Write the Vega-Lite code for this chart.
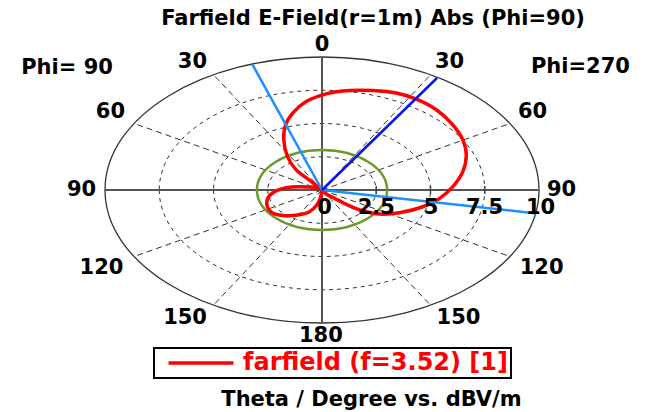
{
  "$schema": "https://vega.github.io/schema/vega-lite/v6.json",
  "width": 434,
  "height": 266,
  "autosize": {"type": "none"},
  "padding": {"left": 105, "top": 57, "right": 112, "bottom": 89},
  "background": "white",
  "config": {"view": {"stroke": null}, "font": "DejaVu Sans"},
  "datasets": {
    "rings": [{"x": 0, "y": 0, "r": 2.5}, {"x": 0, "y": 0, "r": 5}, {"x": 0, "y": 0, "r": 7.5}],
    "outer": [{"x": 0, "y": 0, "r": 10}],
    "green": [{"x": 0, "y": 0, "r": 3}],
    "spokes": [
      {"x": 0, "y": 0, "x2": 5, "y2": 8.66},
      {"x": 0, "y": 0, "x2": 8.66, "y2": 5},
      {"x": 0, "y": 0, "x2": 8.66, "y2": -5},
      {"x": 0, "y": 0, "x2": 5, "y2": -8.66},
      {"x": 0, "y": 0, "x2": -5, "y2": 8.66},
      {"x": 0, "y": 0, "x2": -8.66, "y2": 5},
      {"x": 0, "y": 0, "x2": -8.66, "y2": -5},
      {"x": 0, "y": 0, "x2": -5, "y2": -8.66}
    ],
    "axes": [{"x": -10, "y": 0, "x2": 10, "y2": 0}, {"x": 0, "y": -10, "x2": 0, "y2": 10}],
    "ticks": [{"x": 2.5, "y": 0}, {"x": 5, "y": 0}, {"x": 7.5, "y": 0}],
    "pattern": [
      {"s": "farfield (f=3.52) [1]", "i": 1, "x": 0, "y": 0}, {"s": "farfield (f=3.52) [1]", "i": 2, "x": -0.58, "y": 0.75}, {"s": "farfield (f=3.52) [1]", "i": 3, "x": -1.19, "y": 1.51},
      {"s": "farfield (f=3.52) [1]", "i": 4, "x": -1.59, "y": 2.51}, {"s": "farfield (f=3.52) [1]", "i": 5, "x": -1.76, "y": 3.77}, {"s": "farfield (f=3.52) [1]", "i": 6, "x": -1.68, "y": 4.9},
      {"s": "farfield (f=3.52) [1]", "i": 7, "x": -1.35, "y": 5.78}, {"s": "farfield (f=3.52) [1]", "i": 8, "x": -0.73, "y": 6.65}, {"s": "farfield (f=3.52) [1]", "i": 9, "x": 0.19, "y": 7.23},
      {"s": "farfield (f=3.52) [1]", "i": 10, "x": 1.27, "y": 7.48}, {"s": "farfield (f=3.52) [1]", "i": 11, "x": 2.34, "y": 7.48}, {"s": "farfield (f=3.52) [1]", "i": 12, "x": 3.42, "y": 7.29},
      {"s": "farfield (f=3.52) [1]", "i": 13, "x": 4.35, "y": 6.83}, {"s": "farfield (f=3.52) [1]", "i": 14, "x": 5.27, "y": 6.03}, {"s": "farfield (f=3.52) [1]", "i": 15, "x": 6.03, "y": 4.9},
      {"s": "farfield (f=3.52) [1]", "i": 16, "x": 6.49, "y": 3.77}, {"s": "farfield (f=3.52) [1]", "i": 17, "x": 6.65, "y": 2.64}, {"s": "farfield (f=3.52) [1]", "i": 18, "x": 6.49, "y": 1.38},
      {"s": "farfield (f=3.52) [1]", "i": 19, "x": 6.03, "y": 0.25}, {"s": "farfield (f=3.52) [1]", "i": 20, "x": 5.42, "y": -0.63}, {"s": "farfield (f=3.52) [1]", "i": 21, "x": 4.65, "y": -1.26},
      {"s": "farfield (f=3.52) [1]", "i": 22, "x": 3.57, "y": -1.71}, {"s": "farfield (f=3.52) [1]", "i": 23, "x": 2.65, "y": -1.81}, {"s": "farfield (f=3.52) [1]", "i": 24, "x": 1.88, "y": -1.56},
      {"s": "farfield (f=3.52) [1]", "i": 25, "x": 1.19, "y": -1.13}, {"s": "farfield (f=3.52) [1]", "i": 26, "x": 0.58, "y": -0.63}, {"s": "farfield (f=3.52) [1]", "i": 27, "x": 0.19, "y": -0.3},
      {"s": "farfield (f=3.52) [1]", "i": 28, "x": 0, "y": 0}, {"s": "farfield (f=3.52) [1]", "i": 29, "x": -0.42, "y": 0.2}, {"s": "farfield (f=3.52) [1]", "i": 30, "x": -1.04, "y": 0.25},
      {"s": "farfield (f=3.52) [1]", "i": 31, "x": -1.65, "y": 0.17}, {"s": "farfield (f=3.52) [1]", "i": 32, "x": -2.19, "y": -0.13}, {"s": "farfield (f=3.52) [1]", "i": 33, "x": -2.5, "y": -0.63},
      {"s": "farfield (f=3.52) [1]", "i": 34, "x": -2.52, "y": -1.26}, {"s": "farfield (f=3.52) [1]", "i": 35, "x": -2.3, "y": -1.71}, {"s": "farfield (f=3.52) [1]", "i": 36, "x": -1.81, "y": -1.91},
      {"s": "farfield (f=3.52) [1]", "i": 37, "x": -1.12, "y": -1.88}, {"s": "farfield (f=3.52) [1]", "i": 38, "x": -0.58, "y": -1.64}, {"s": "farfield (f=3.52) [1]", "i": 39, "x": -0.24, "y": -1.13},
      {"s": "farfield (f=3.52) [1]", "i": 40, "x": -0.08, "y": -0.63}, {"s": "farfield (f=3.52) [1]", "i": 41, "x": 0, "y": 0}
    ],
    "beamDark": [{"x": 0, "y": 0, "x2": 5.3, "y2": 8.42}],
    "beamLight": [{"x": -3.22, "y": 9.47, "x2": 0, "y2": 0}, {"x": 0, "y": 0, "x2": 9.88, "y2": -1.76}],
    "labels": [
      {"x": 2.35, "y": 12.85, "label": "Farfield E-Field(r=1m) Abs (Phi=90)"},
      {"x": 0, "y": 10.9, "label": "0"},
      {"x": -5.97, "y": 9.59, "label": "30"},
      {"x": 5.88, "y": 9.59, "label": "30"},
      {"x": -11.75, "y": 9.21, "label": "Phi= 90"},
      {"x": 11.91, "y": 9.25, "label": "Phi=270"},
      {"x": -9.75, "y": 5.86, "label": "60"},
      {"x": 9.7, "y": 5.86, "label": "60"},
      {"x": -11.08, "y": 0, "label": "90"},
      {"x": 11.04, "y": 0, "label": "90"},
      {"x": -10.16, "y": -5.83, "label": "120"},
      {"x": 10.12, "y": -5.83, "label": "120"},
      {"x": -6.31, "y": -9.59, "label": "150"},
      {"x": 6.29, "y": -9.59, "label": "150"},
      {"x": -0.05, "y": -10.98, "label": "180"},
      {"x": 0.12, "y": -1.32, "label": "0"},
      {"x": 2.5, "y": -1.32, "label": "2.5"},
      {"x": 5.03, "y": -1.32, "label": "5"},
      {"x": 7.49, "y": -1.32, "label": "7.5"},
      {"x": 10.07, "y": -1.32, "label": "10"},
      {"x": 2.28, "y": -15.79, "label": "Theta / Degree vs. dBV/m"}
    ]
  },
  "layer": [
    {
      "data": {"name": "rings"},
      "mark": {"type": "point", "shape": "M-1,0A1,0.613,0,1,0,1,0A1,0.613,0,1,0,-1,0Z", "filled": false, "stroke": "#333333", "strokeWidth": 1, "strokeDash": [4, 4], "opacity": 1},
      "encoding": {
        "x": {"field": "x", "type": "quantitative", "scale": {"domain": [-10, 10], "nice": false, "zero": false}, "axis": null},
        "y": {"field": "y", "type": "quantitative", "scale": {"domain": [-10, 10], "nice": false, "zero": false}, "axis": null},
        "size": {"field": "r", "type": "quantitative", "scale": {"type": "pow", "exponent": 2, "domain": [0, 10], "range": [0, 188356], "zero": true, "nice": false}, "legend": null}
      }
    },
    {
      "data": {"name": "spokes"},
      "mark": {"type": "rule", "stroke": "#333333", "strokeWidth": 1, "strokeDash": [6, 4]},
      "encoding": {
        "x": {"field": "x", "type": "quantitative", "scale": {"domain": [-10, 10], "nice": false, "zero": false}, "axis": null},
        "y": {"field": "y", "type": "quantitative", "scale": {"domain": [-10, 10], "nice": false, "zero": false}, "axis": null},
        "x2": {"field": "x2"},
        "y2": {"field": "y2"}
      }
    },
    {
      "data": {"name": "outer"},
      "mark": {"type": "point", "shape": "M-1,0A1,0.613,0,1,0,1,0A1,0.613,0,1,0,-1,0Z", "filled": false, "stroke": "#333333", "strokeWidth": 1.3, "opacity": 1},
      "encoding": {
        "x": {"field": "x", "type": "quantitative", "scale": {"domain": [-10, 10], "nice": false, "zero": false}, "axis": null},
        "y": {"field": "y", "type": "quantitative", "scale": {"domain": [-10, 10], "nice": false, "zero": false}, "axis": null},
        "size": {"field": "r", "type": "quantitative", "scale": {"type": "pow", "exponent": 2, "domain": [0, 10], "range": [0, 188356], "zero": true, "nice": false}, "legend": null}
      }
    },
    {
      "data": {"name": "axes"},
      "mark": {"type": "rule", "stroke": "#555555", "strokeWidth": 2},
      "encoding": {
        "x": {"field": "x", "type": "quantitative", "scale": {"domain": [-10, 10], "nice": false, "zero": false}, "axis": null},
        "y": {"field": "y", "type": "quantitative", "scale": {"domain": [-10, 10], "nice": false, "zero": false}, "axis": null},
        "x2": {"field": "x2"},
        "y2": {"field": "y2"}
      }
    },
    {
      "data": {"name": "ticks"},
      "mark": {"type": "tick", "orient": "vertical", "size": 8, "thickness": 1.5, "color": "#444444", "opacity": 1},
      "encoding": {
        "x": {"field": "x", "type": "quantitative", "scale": {"domain": [-10, 10], "nice": false, "zero": false}, "axis": null},
        "y": {"field": "y", "type": "quantitative", "scale": {"domain": [-10, 10], "nice": false, "zero": false}, "axis": null}
      }
    },
    {
      "data": {"name": "green"},
      "mark": {"type": "point", "shape": "M-1,0A1,0.613,0,1,0,1,0A1,0.613,0,1,0,-1,0Z", "filled": false, "stroke": "#6b9a2c", "strokeWidth": 2.5, "opacity": 1},
      "encoding": {
        "x": {"field": "x", "type": "quantitative", "scale": {"domain": [-10, 10], "nice": false, "zero": false}, "axis": null},
        "y": {"field": "y", "type": "quantitative", "scale": {"domain": [-10, 10], "nice": false, "zero": false}, "axis": null},
        "size": {"field": "r", "type": "quantitative", "scale": {"type": "pow", "exponent": 2, "domain": [0, 10], "range": [0, 188356], "zero": true, "nice": false}, "legend": null}
      }
    },
    {
      "data": {"name": "pattern"},
      "mark": {"type": "line", "strokeWidth": 3.5, "interpolate": "catmull-rom"},
      "encoding": {
        "x": {"field": "x", "type": "quantitative", "scale": {"domain": [-10, 10], "nice": false, "zero": false}, "axis": null},
        "y": {"field": "y", "type": "quantitative", "scale": {"domain": [-10, 10], "nice": false, "zero": false}, "axis": null},
        "order": {"field": "i", "type": "quantitative"},
        "color": {
          "field": "s",
          "type": "nominal",
          "scale": {"range": ["#ff0000"]},
          "legend": {
            "title": null,
            "orient": "none",
            "legendX": 49,
            "legendY": 291,
            "padding": 3,
            "strokeColor": "#000000",
            "fillColor": "#ffffff",
            "symbolType": "M-5,0H5",
            "symbolSize": 169,
            "symbolStrokeWidth": 3.5,
            "symbolOffset": 32,
            "labelOffset": 30,
            "labelFont": "DejaVu Sans",
            "labelFontSize": 24,
            "labelFontWeight": "bold",
            "labelColor": "#ff0000",
            "labelLimit": 500,
            "encode": {"legend": {"update": {"strokeWidth": {"value": 2}}}}
          }
        }
      }
    },
    {
      "data": {"name": "beamLight"},
      "mark": {"type": "rule", "stroke": "#1e8fff", "strokeWidth": 2.5},
      "encoding": {
        "x": {"field": "x", "type": "quantitative", "scale": {"domain": [-10, 10], "nice": false, "zero": false}, "axis": null},
        "y": {"field": "y", "type": "quantitative", "scale": {"domain": [-10, 10], "nice": false, "zero": false}, "axis": null},
        "x2": {"field": "x2"},
        "y2": {"field": "y2"}
      }
    },
    {
      "data": {"name": "beamDark"},
      "mark": {"type": "rule", "stroke": "#0a14e6", "strokeWidth": 2.5},
      "encoding": {
        "x": {"field": "x", "type": "quantitative", "scale": {"domain": [-10, 10], "nice": false, "zero": false}, "axis": null},
        "y": {"field": "y", "type": "quantitative", "scale": {"domain": [-10, 10], "nice": false, "zero": false}, "axis": null},
        "x2": {"field": "x2"},
        "y2": {"field": "y2"}
      }
    },
    {
      "data": {"name": "labels"},
      "mark": {"type": "text", "font": "DejaVu Sans", "fontSize": 21, "fontWeight": "bold", "color": "#000000", "align": "center", "baseline": "middle"},
      "encoding": {
        "x": {"field": "x", "type": "quantitative", "scale": {"domain": [-10, 10], "nice": false, "zero": false}, "axis": null},
        "y": {"field": "y", "type": "quantitative", "scale": {"domain": [-10, 10], "nice": false, "zero": false}, "axis": null},
        "text": {"field": "label"}
      }
    }
  ]
}
